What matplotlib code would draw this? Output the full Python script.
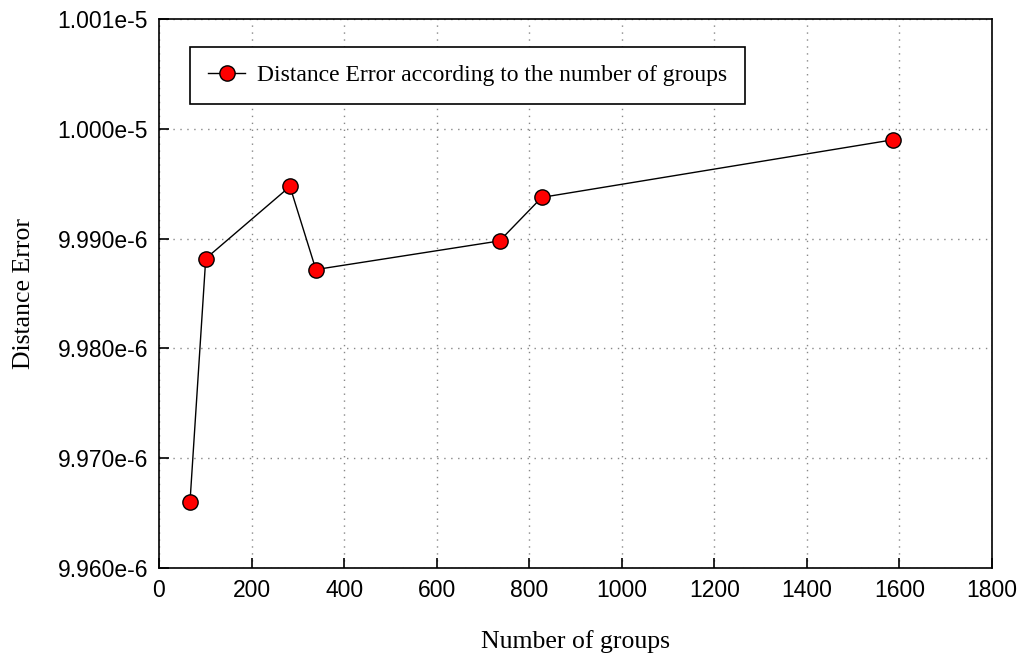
import matplotlib
matplotlib.use("Agg")
import matplotlib.pyplot as plt
from matplotlib.ticker import FuncFormatter

groups = [67, 101, 283, 339, 736, 827, 1586]
errors = [9.96603e-6, 9.98818e-6, 9.99475e-6, 9.98718e-6, 9.98979e-6, 9.99375e-6, 9.99900e-6]

x_ticks = [0, 200, 400, 600, 800, 1000, 1200, 1400, 1600, 1800]
y_ticks = [9.960e-6, 9.970e-6, 9.980e-6, 9.990e-6, 1.000e-5, 1.001e-5]

series_label = "Distance Error according to the number of groups"
x_label = "Number of groups"
y_label = "Distance Error"


def fmt(v, pos):
    s = "%.3e" % v
    mant, exp = s.split("e")
    return "%se%d" % (mant, int(exp))


fig = plt.figure(figsize=(10.2, 6.54), dpi=100)
ax = fig.add_axes([159 / 1020, 1 - 568 / 654, (992 - 159) / 1020, (568 - 19) / 654])

ax.plot(groups, errors, color="black", linewidth=1.0, marker="o",
        markersize=11, markerfacecolor="#ff0000", markeredgecolor="black",
        markeredgewidth=1.0, label=series_label)

ax.set_xlim(0, 1800)
ax.set_ylim(9.960e-6, 1.001e-5)
ax.set_xticks(x_ticks)
ax.set_yticks(y_ticks)
ax.yaxis.set_major_formatter(FuncFormatter(fmt))
ax.xaxis.get_offset_text().set_visible(False)
ax.yaxis.get_offset_text().set_visible(False)

ax.tick_params(direction="in", length=7, width=1.2, labelsize=16.5,
               top=False, right=False, pad=8)
for lab in ax.get_xticklabels() + ax.get_yticklabels():
    lab.set_family("Liberation Sans")

ax.grid(True, color="#888888", linestyle=(0, (1, 4)), linewidth=1.0)
for sp in ax.spines.values():
    sp.set_linewidth(1.2)

ax.set_xlabel(x_label, family="Liberation Serif", fontsize=18.5, labelpad=20)
ax.set_ylabel(y_label, family="Liberation Serif", fontsize=18.5, labelpad=16)

leg = ax.legend(loc="upper left", bbox_to_anchor=((190 - 159) / 833, 1 - (47 - 19) / 549),
                prop={"family": "Liberation Serif", "size": 17},
                frameon=True, fancybox=False, edgecolor="black", framealpha=1,
                borderpad=0.75, handlelength=1.6, handletextpad=0.5, borderaxespad=0)
leg.get_frame().set_linewidth(1.2)

fig.savefig("out.png", dpi=100)
